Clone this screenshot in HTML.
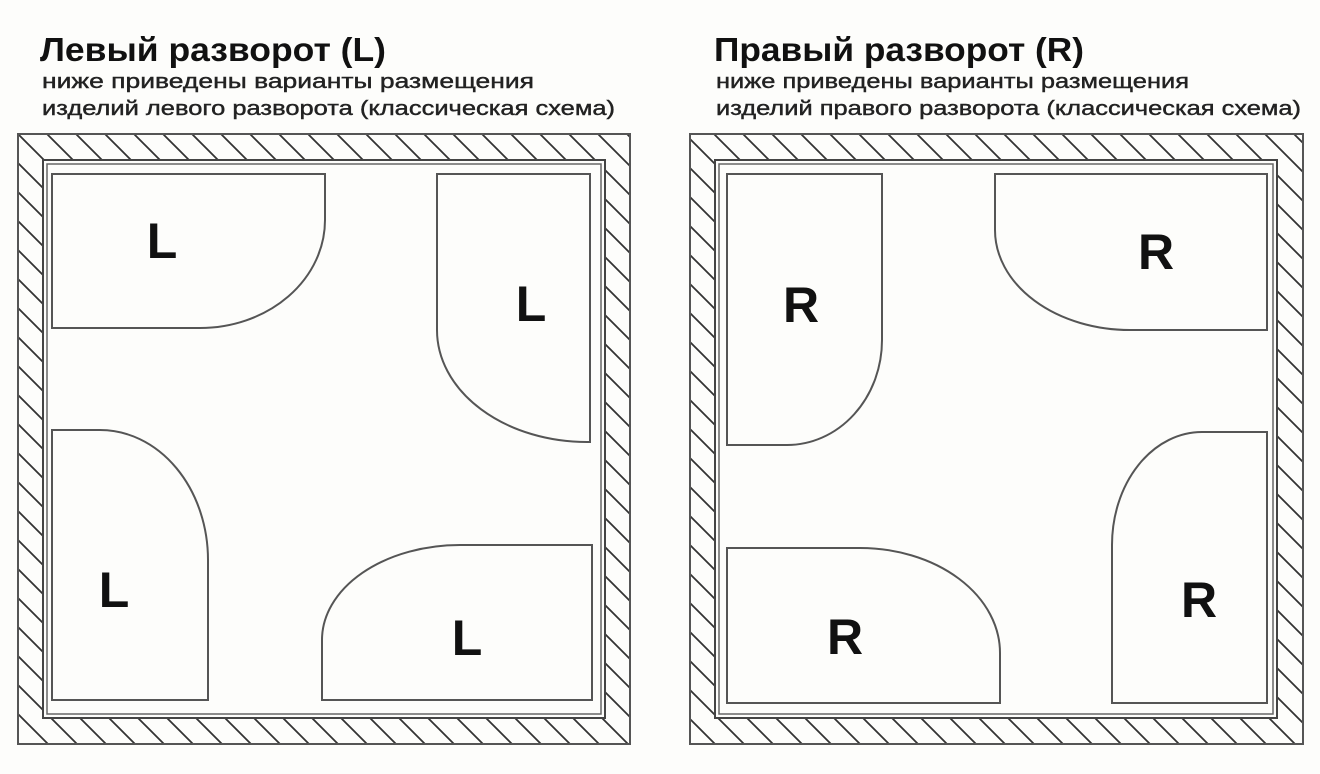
<!DOCTYPE html>
<html><head><meta charset="utf-8"><style>html,body{margin:0;padding:0;background:#fdfdfb}</style></head>
<body>
<svg width="1320" height="769" viewBox="0 0 1320 769" xmlns="http://www.w3.org/2000/svg">
<defs>
<pattern id="h" patternUnits="userSpaceOnUse" width="29" height="29">
<path d="M-2,-2 L31,31 M-31,-2 L2,31 M27,-2 L60,31" stroke="#333" stroke-width="1.8"/>
</pattern>
</defs>
<rect width="1320" height="769" fill="#fdfdfb"/>
<g font-family="Liberation Sans, DejaVu Sans, sans-serif" fill="#111">
<text x="40" y="61" font-size="33" font-weight="bold" textLength="346" lengthAdjust="spacingAndGlyphs">Левый разворот (L)</text>
<text x="42" y="88" font-size="20" fill="#222" stroke="#222" stroke-width="0.4" textLength="492" lengthAdjust="spacingAndGlyphs">ниже приведены варианты размещения</text>
<text x="42" y="115" font-size="20" fill="#222" stroke="#222" stroke-width="0.4" textLength="573" lengthAdjust="spacingAndGlyphs">изделий левого разворота (классическая схема)</text>
<text x="714" y="61" font-size="33" font-weight="bold" textLength="370" lengthAdjust="spacingAndGlyphs">Правый разворот (R)</text>
<text x="716" y="88" font-size="20" fill="#222" stroke="#222" stroke-width="0.4" textLength="473" lengthAdjust="spacingAndGlyphs">ниже приведены варианты размещения</text>
<text x="716" y="115" font-size="20" fill="#222" stroke="#222" stroke-width="0.4" textLength="585" lengthAdjust="spacingAndGlyphs">изделий правого разворота (классическая схема)</text>
</g>
<path d="M18,134 H630 V744 H18 Z M43,160 V718 H605 V160 Z" fill="url(#h)" fill-rule="evenodd"/>
<rect x="18" y="134" width="612" height="610" fill="none" stroke="#555" stroke-width="2"/>
<rect x="43" y="160" width="562" height="558" fill="#fdfdfb" stroke="#444" stroke-width="2"/>
<rect x="47" y="164" width="554" height="550" fill="none" stroke="#666" stroke-width="1.5"/>
<path d="M690,134 H1303 V744 H690 Z M715,160 V718 H1277 V160 Z" fill="url(#h)" fill-rule="evenodd"/>
<rect x="690" y="134" width="613" height="610" fill="none" stroke="#555" stroke-width="2"/>
<rect x="715" y="160" width="562" height="558" fill="#fdfdfb" stroke="#444" stroke-width="2"/>
<rect x="719" y="164" width="554" height="550" fill="none" stroke="#666" stroke-width="1.5"/>
<g fill="none" stroke="#555" stroke-width="2">
<path d="M52,174 H325 V220 A125,108 0 0 1 200,328 H52 Z"/>
<path d="M437,174 H590 V442 H587 A150,112 0 0 1 437,330 Z"/>
<path d="M52,430 H100 A108,130 0 0 1 208,560 V700 H52 Z"/>
<path d="M322,700 V640 A138,95 0 0 1 460,545 H592 V700 Z"/>
<path d="M727,174 H882 V340 A95,105 0 0 1 787,445 H727 Z"/>
<path d="M995,174 H1267 V330 H1130 A135,100 0 0 1 995,230 Z"/>
<path d="M1112,703 V545 A90,113 0 0 1 1202,432 H1267 V703 Z"/>
<path d="M727,548 H860 A140,105 0 0 1 1000,653 V703 H727 Z"/>
</g>
<g font-family="Liberation Sans, DejaVu Sans, sans-serif" font-size="50" font-weight="bold" fill="#111" text-anchor="middle">
<text x="162" y="258">L</text>
<text x="531" y="321">L</text>
<text x="114" y="607">L</text>
<text x="467" y="655">L</text>
<text x="801" y="322">R</text>
<text x="1156" y="269">R</text>
<text x="1199" y="617">R</text>
<text x="845" y="654">R</text>
</g>
</svg>
</body></html>
